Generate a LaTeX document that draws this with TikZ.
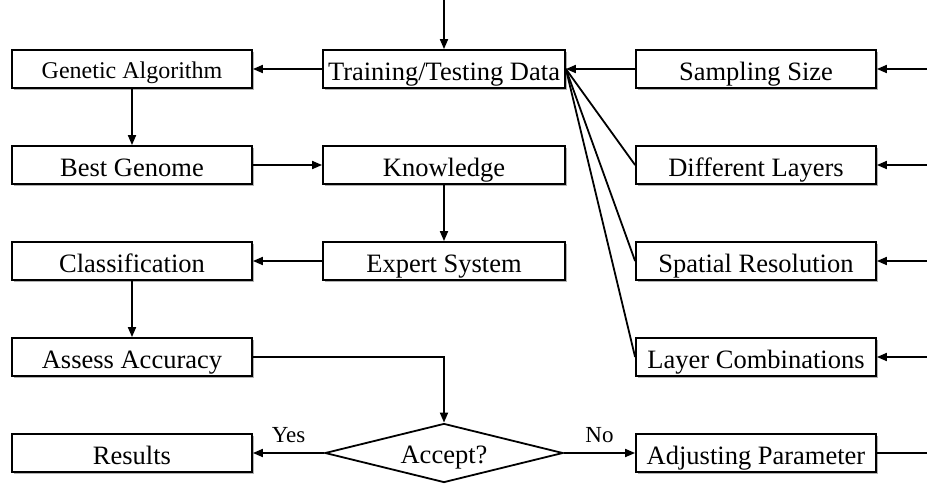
\documentclass[tikz,border=0pt]{standalone}
\usepackage{fontspec}
\setmainfont{Liberation Serif}
\usetikzlibrary{arrows.meta,shapes.geometric,shadows}
\begin{document}
\begin{tikzpicture}[x=1pt,y=-1pt,
  line width=1.8pt,
  every node/.style={font=\fontsize{26.5}{30}\selectfont},
  box/.style={draw, fill=white, minimum width=240pt, minimum height=38pt,
    inner sep=0pt, line width=1.8pt, text height=28pt, text depth=6pt,
    general shadow={shadow xshift=2pt, shadow yshift=-2pt, fill=black!30}},
  decide/.style={draw, diamond, aspect=4, minimum width=238pt, minimum height=59pt,
    inner sep=0pt, line width=1.8pt, text height=26pt, text depth=6pt},
  arr/.style={-{Triangle[length=10pt,width=8pt]}},
  lbl/.style={font=\fontsize{23}{26}\selectfont, inner sep=9pt}
]
\useasboundingbox (0,0) rectangle (927,483);

% left column
\node[box, font=\fontsize{24}{28}\selectfont, text height=25pt] (ga) at (132,69) {Genetic Algorithm};
\node[box] (bg) at (132,165) {Best Genome};
\node[box] (cl) at (132,261) {Classification};
\node[box] (aa) at (132,357) {Assess Accuracy};
\node[box] (res) at (132,453) {Results};

% middle column
\node[box, minimum width=242pt] (td) at (444,69) {Training/Testing Data};
\node[box, minimum width=242pt] (kn) at (444,165) {Knowledge};
\node[box, minimum width=242pt] (es) at (444,261) {Expert System};
\node[decide] (acc) at (444,453) {Accept?};

% right column
\node[box] (ss) at (756,69) {Sampling Size};
\node[box] (dl) at (756,165) {Different Layers};
\node[box] (sr) at (756,261) {Spatial Resolution};
\node[box] (lc) at (756,357) {Layer Combinations};
\node[box] (adj) at (756,453) {Adjusting Parameter};

% free ends of the feedback lines
\coordinate (top) at (444,0);
\coordinate (fss) at (927,69);
\coordinate (fdl) at (927,165);
\coordinate (fsr) at (927,261);
\coordinate (flc) at (927,357);
\coordinate (fadj) at (927,453);

% main flow
\draw[arr] (top) -- (td.north);
\draw[arr] (td.west) -- (ga.east);
\draw[arr] (ga.south) -- (bg.north);
\draw[arr] (bg.east) -- (kn.west);
\draw[arr] (kn.south) -- (es.north);
\draw[arr] (es.west) -- (cl.east);
\draw[arr] (cl.south) -- (aa.north);
\draw[arr] (aa.east) -| (acc.north);
\draw[arr] (acc.west) -- node[lbl, above] {Yes} (res.east);
\draw[arr] (acc.east) -- node[lbl, above] {No} (adj.west);

% parameters feeding the data
\draw[arr] (ss.west) -- (td.east);
\draw (dl.west) -- (td.east);
\draw (sr.west) -- (td.east);
\draw (lc.west) -- (td.east);

% feedback from the right edge
\draw[arr] (fss) -- (ss.east);
\draw[arr] (fdl) -- (dl.east);
\draw[arr] (fsr) -- (sr.east);
\draw[arr] (flc) -- (lc.east);
\draw (adj.east) -- (fadj);
\end{tikzpicture}
\end{document}
